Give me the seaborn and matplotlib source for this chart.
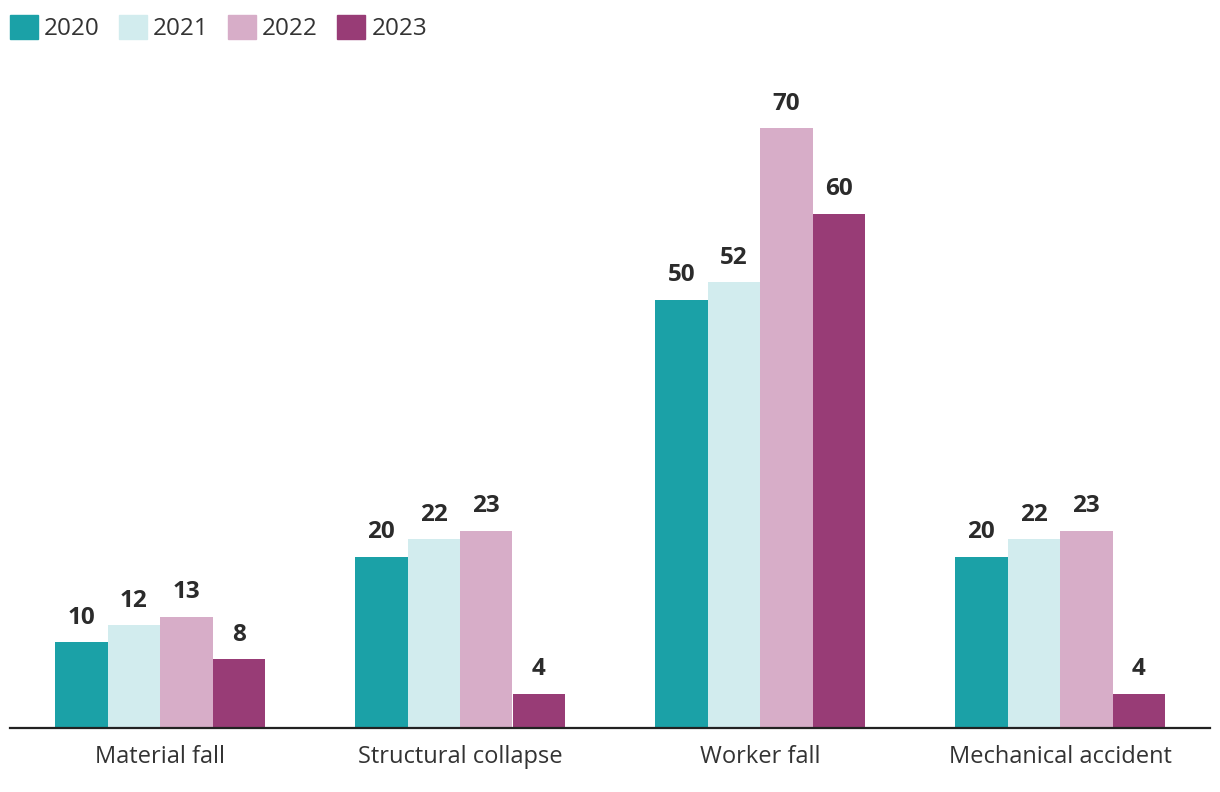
import pandas as pd
import matplotlib.pyplot as plt
import seaborn as sns

categories = ["Material fall", "Structural collapse", "Worker fall", "Mechanical accident"]
years = ["2020", "2021", "2022", "2023"]
v2020 = [10, 20, 50, 20]
v2021 = [12, 22, 52, 22]
v2022 = [13, 23, 70, 23]
v2023 = [8, 4, 60, 4]
colors = ["#1ba1a7", "#d2ecee", "#d7adc8", "#983c76"]

rows = []
for yr, vals in zip(years, [v2020, v2021, v2022, v2023]):
    for cat, v in zip(categories, vals):
        rows.append({"category": cat, "year": yr, "value": v})
df = pd.DataFrame(rows)

sns.set_style("white")
plt.rcParams["font.family"] = ["Open Sans", "DejaVu Sans"]

fig = plt.figure(figsize=(12.2, 7.92), dpi=100)
ax = fig.add_axes([10 / 1220, 64 / 792, 1200 / 1220, (728 - 85.3) / 792])

sns.barplot(data=df, x="category", y="value", hue="year", palette=colors,
            width=0.7, saturation=1, linewidth=0, ax=ax, legend=False)

for cont in ax.containers:
    ax.bar_label(cont, padding=9, fontsize=17.5, fontweight="bold", color="#2b2b2b")

ax.set_xlim(-0.5, 3.5)
ax.set_ylim(0, 75)
ax.set_xlabel("")
ax.set_ylabel("")
ax.set_yticks([])
for s in ["top", "right", "left"]:
    ax.spines[s].set_visible(False)
ax.spines["bottom"].set_color("#222222")
ax.spines["bottom"].set_linewidth(1.6)
ax.tick_params(axis="x", length=0, labelsize=17, labelcolor="#333333", pad=12)

handles = [plt.Rectangle((0, 0), 1, 1, color=c) for c in colors]
fig.legend(handles, years, loc="upper left", bbox_to_anchor=(-5 / 1220, 1.0), ncol=4,
           frameon=False, fontsize=17.5, handlelength=1.15, handleheight=1.15,
           handletextpad=0.25, columnspacing=0.8, labelcolor="#333333",
           borderaxespad=0.3, borderpad=0.3)

fig.savefig("out.png", dpi=100)
